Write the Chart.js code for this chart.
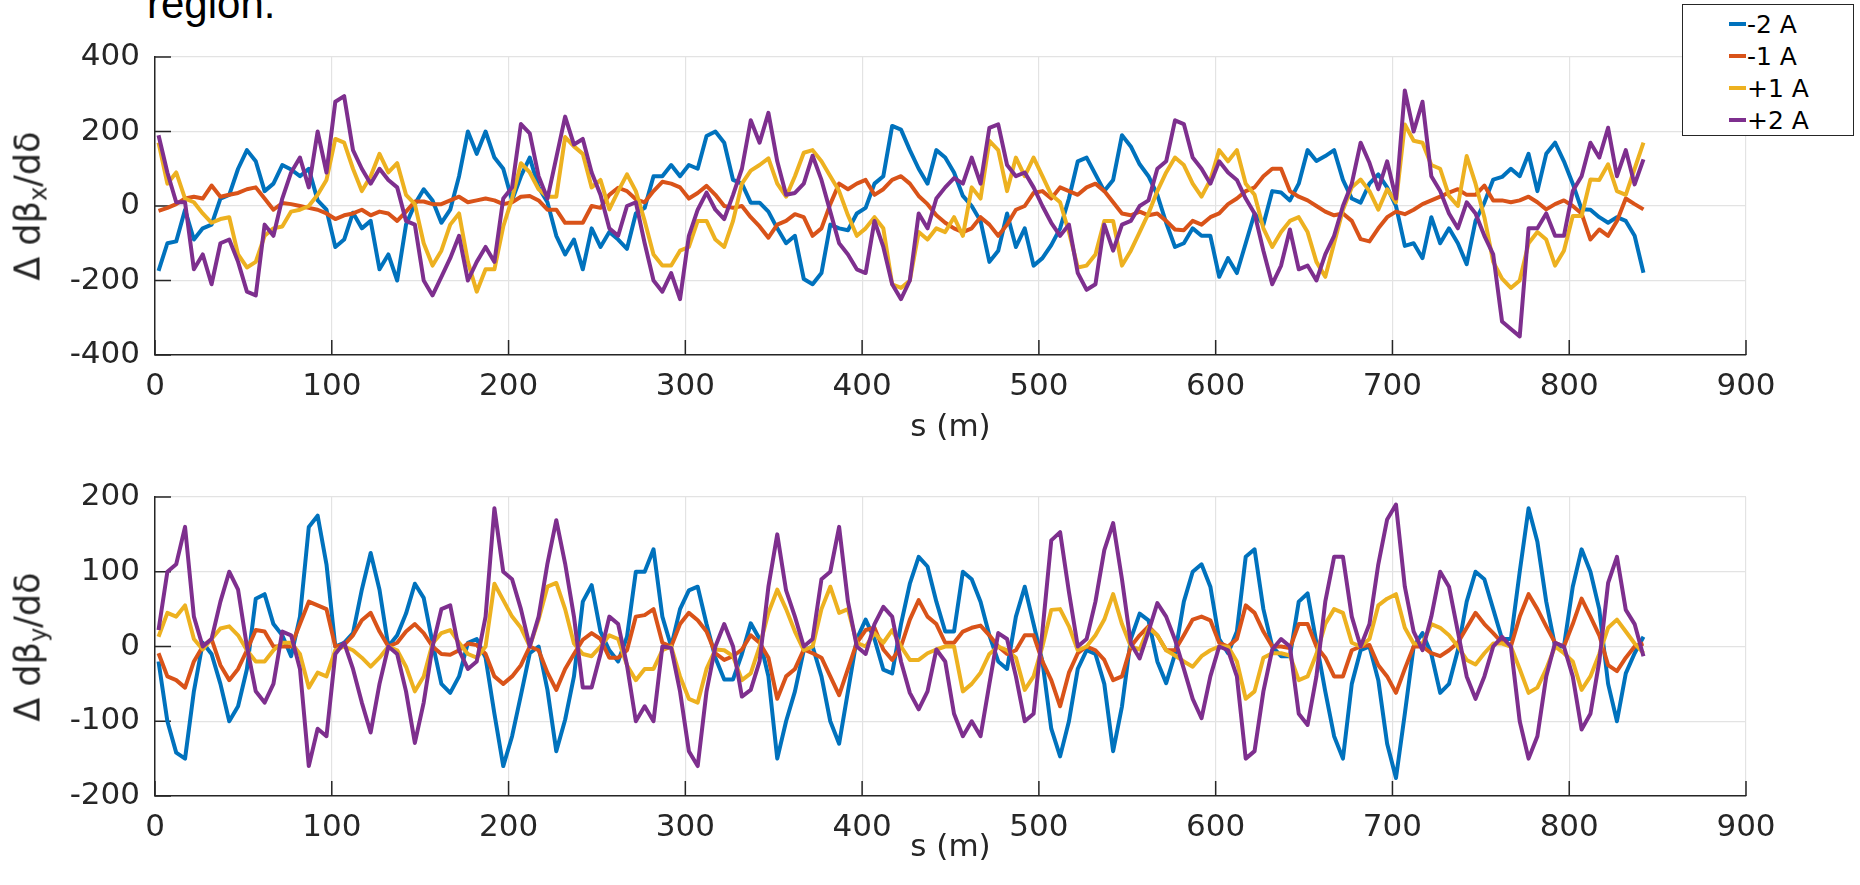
<!DOCTYPE html>
<html>
<head>
<meta charset="utf-8">
<title>Beta-beat chromatic</title>
<script src="https://cdn.jsdelivr.net/npm/chart.js@4.4.1/dist/chart.umd.min.js"></script>
<style>
    html, body { margin: 0; padding: 0; background: #fff; }
    body { width: 1860px; height: 885px; position: relative; overflow: hidden; font-family: 'DejaVu Sans', sans-serif; color: #262626; }
    canvas { position: absolute; left: 0; }
    #chart-topo { top: 0; }
    #chart-baixo { top: 460px; }
    .texto-topo { position: absolute; left: 147px; top: -17px; font-family: 'Liberation Sans', Arial, sans-serif; font-size: 42px; line-height: 42px; color: #000; }
    .rotulo-y { position: absolute; font-size: 35px; white-space: nowrap; transform: translate(-50%, -50%) rotate(-90deg); }
    .rotulo-y sub { font-size: 24px; vertical-align: -7px; }
    #legenda { position: absolute; left: 1682px; top: 4px; width: 172px; height: 132px; border: 1.5px solid #262626; background: #fff; box-sizing: border-box; }
    #legenda .item { position: absolute; left: 46px; height: 30px; line-height: 30px; font-size: 25px; color: #000; white-space: nowrap; }
    #legenda .amostra { display: inline-block; width: 17px; height: 4px; vertical-align: middle; margin-right: 1px; position: relative; top: -2px; }
</style>
</head>
<body>
<div class="texto-topo">region.</div>
<canvas id="chart-topo" width="1860" height="460"></canvas>
<canvas id="chart-baixo" width="1860" height="425"></canvas>
<div class="rotulo-y" style="left: 30px; top: 206px;">&Delta; d&beta;<sub>x</sub>/d&delta;</div>
<div class="rotulo-y" style="left: 30px; top: 647px;">&Delta; d&beta;<sub>y</sub>/d&delta;</div>
<div id="legenda"></div>

<script>
// posicoes s (m) dos pontos
const S_POS = [
    2, 7, 12, 17, 22, 27, 32, 37, 42, 47, 52, 57, 62, 67, 72, 77, 82, 87, 92, 97,
    102, 107, 112, 117, 122, 127, 132, 137, 142, 147, 152, 157, 162, 167, 172, 177, 182, 187, 192, 197,
    202, 207, 212, 217, 222, 227, 232, 237, 242, 247, 252, 257, 262, 267, 272, 277, 282, 287, 292, 297,
    302, 307, 312, 317, 322, 327, 332, 337, 342, 347, 352, 357, 362, 367, 372, 377, 382, 387, 392, 397,
    402, 407, 412, 417, 422, 427, 432, 437, 442, 447, 452, 457, 462, 467, 472, 477, 482, 487, 492, 497,
    502, 507, 512, 517, 522, 527, 532, 537, 542, 547, 552, 557, 562, 567, 572, 577, 582, 587, 592, 597,
    602, 607, 612, 617, 622, 627, 632, 637, 642, 647, 652, 657, 662, 667, 672, 677, 682, 687, 692, 697,
    702, 707, 712, 717, 722, 727, 732, 737, 742, 747, 752, 757, 762, 767, 772, 777, 782, 787, 792, 797,
    802, 807, 812, 817, 822, 827, 832, 837, 842
];

// painel superior: Δ dβx/dδ
const DBX_M2 = [
    -174, -100, -95, -10, -90, -60, -50, 20, 30, 100, 150, 120, 40, 60, 110, 98, 80, 100, 15, -10,
    -110, -90, -18, -60, -40, -170, -130, -200, -50, 5, 45, 15, -45, -10, 80, 200, 140, 200, 130, 100,
    15, 80, 130, 50, 10, -80,
    -130, -90, -170, -60, -110, -70, -90, -115, -20, -5, 80, 80, 110, 80, 110, 100, 188, 200, 170, 70,
    60, 9, 9, -15, -60, -100, -80, -196, -210, -180, -50, -60, -65, -20, -5, 60, 80, 215, 205, 150,
    100, 60, 150, 130, 90,
    27, 0, -40, -150, -120, -20, -110, -60, -160, -140, -105, -60, 20, 120, 130, 85, 40, 70, 190, 160,
    112, 80, 30, -45, -110, -100, -60, -80, -80, -190, -140, -180, -100, -20, -50, 40, 36, 15, 60, 150,
    121, 134, 150, 70, 20,
    9, 60, 85, 50, 0, -107, -100, -140, -30, -100, -60, -100, -156, -40, 9, 71, 78, 100, 80, 140,
    40, 140, 170, 120, 60, -9, -10, -30, -45, -30, -40, -80, -179
];
const DBX_M1 = [
    -13, -5, 5, 20, 25, 20, 55, 25, 30, 35, 45, 50, 20, -10, 8, 5, 0, -5, -10, -20,
    -35, -25, -20, -10, -25, -15, -20, -40, -15, 12, 12, 5, 5, 15, 25, 10, 15, 20, 15, 5,
    10, 25, 27, 15, -10, -10,
    -45, -45, -45, 0, -5, 30, 49, 40, 18, 10, 40, 65, 60, 50, 20, 35, 54, 30, 0, -5,
    0, -30, -55, -85, -50, -40, -22, -30, -80, -60, 5, 60, 45, 60, 70, 30, 45, 70, 80, 60,
    27, 5, -25, -45, -60,
    -70, -60, -30, -50, -80, -50, -10, 0, 35, 40, 20, 50, 40, 30, 50, 60, 40, 10, -20, -25,
    -15, -25, -20, -40, -63, -65, -40, -50, -30, -20, 5, 20, 40, 50, 80, 100, 100, 40, 25, 15,
    0, -15, -25, -20, -40,
    -89, -95, -60, -30, -15, -22, -10, 5, 15, 25, 36, 45, 30, 30, 55, 15, 15, 10, 15, 25,
    10, -9, 5, 15, 0, -20, -90, -63, -80, -40, 20, 5, -9
];
const DBX_P1 = [
    170, 60, 90, 20, 10, -20, -45, -35, -30, -130, -165, -150, -80, -60, -55, -15, -10, 0, 30, 70,
    180, 170, 100, 40, 80, 140, 90, 115, 30, 5, -100, -160, -120, -50, -20, -150, -230, -170, -170, -55,
    20, 115, 90, 45, 25, 25,
    185, 160, 140, 50, 70, -9, 40, 85, 40, -40, -130, -160, -160, -120, -110, -40, -40, -90, -110, -40,
    60, 95, 110, 128, 60, 25, 80, 143, 150, 120, 80, 40, -25, -80, -60, -30, -60, -210, -220, -200,
    -70, -90, -60, -70, -30,
    -80, 50, 20, 175, 150, 40, 130, 80, 130, 80, 30, 10, -70, -165, -160, -130, -40, -40, -160, -120,
    -70, -20, 40, 90, 130, 110, 60, 25, 70, 150, 120, 150, 60, 30, -60, -110, -70, -40, -30, -70,
    -150, -190, -100, -10, 50,
    71, 40, -10, 45, 10, 219, 175, 170, 110, 100, 27, 0, 134, 60, -30, -150, -195, -220, -200, -100,
    -70, -90, -160, -120, -27, -27, 71, 70, 112, 40, 30, 100, 170
];
const DBX_P2 = [
    190, 90, 10, 10, -170, -130, -210, -100, -90, -150, -230, -240, -50, -80, 20, 90, 130, 50, 200, 90,
    280, 295, 150, 100, 60, 100, 70, 50, -40, -50, -200, -240, -190, -140, -80, -200, -150, -110, -150, 20,
    50, 220, 195, 80, 20, 130,
    240, 165, 180, 90, 30, -60, -80, 0, 10, -100, -200, -230, -180, -250, -80, -10, 36, -10, -35, 30,
    100, 230, 170, 250, 120, 30, 35, 60, 135, 70, -15, -100, -130, -170, -180, -40, -110, -210, -250, -200,
    -20, -60, 20, 50, 75,
    60, 130, 60, 210, 219, 110, 80, 90, 50, 0, -45, -80, -50, -180, -225, -210, -50, -120, -50, -40,
    0, 15, 100, 120, 230, 220, 130, 100, 60, 120, 90, 70, 20, -20, -120, -210, -160, -63, -170, -160,
    -200, -130, -80, 0, 60,
    170, 116, 45, 120, 20, 310, 200, 280, 80, 40, -20, -60, 10, -20, -80, -130, -310, -330, -350, -60,
    -60, -20, -80, -80, 40, 80, 170, 130, 210, 80, 150, 58, 125
];

// painel inferior: Δ dβy/dδ
const DBY_M2 = [
    -20, -100, -142, -150, -60, 5, -10, -50, -100, -80, -30, 64, 70, 30, 15, -13, 40, 160, 175, 110,
    0, 5, 18, 76, 125, 76, 0, 15, 44, 84, 65, 5, -50, -62, -40, 5, 10, -15, -90, -160,
    -120, -65, -9, 0, -58, -140,
    -98, -40, 60, 82, 20, -5, -20, 13, 100, 100, 130, 40, 0, 50, 75, 80, 30, -15, -44, -44,
    -10, 31, 10, -40, -150, -100, -60, -5, 0, -40, -100, -130, -60, 10, 36, 10, -31, -36, 30, 84,
    120, 107, 60, 20, 20,
    100, 90, 60, 15, -20, -30, 40, 80, 30, -20, -110, -147, -100, -30, -5, -10, -50, -140, -80, 10,
    44, 35, -20, -49, -10, 60, 100, 110, 80, 10, -9, 20, 120, 130, 50, 0, -13, -13, 60, 71,
    5, -60, -120, -150, -50,
    -5, 0, -45, -130, -176, -90, 0, 18, -10, -62, -50, -5, 60, 100, 90, 50, 10, 10, 100, 185,
    140, 60, 0, 0, 80, 130, 100, 50, -50, -100, -36, -9, 13
];
const DBY_M1 = [
    -9, -40, -45, -55, -20, 0, 10, -25, -45, -30, -5, 22, 20, 0, 0, 0, 30, 60, 55, 50,
    0, 2, 15, 35, 45, 20, 0, 5, 20, 30, 18, 0, -10, -11, -5, 4, 2, -10, -40, -50,
    -40, -25, 0, -5, -35, -58,
    -30, -10, 9, 18, 10, -15, -15, -5, 40, 42, 50, 5, 0, 30, 45, 35, 20, -9, -18, -13,
    -4, 15, 5, -15, -70, -40, -30, -4, -9, -15, -40, -65, -30, 5, 22, 25, -4, -18, 0, 36,
    62, 40, 30, 5, 5,
    20, 25, 28, 15, 0, -10, -5, 15, 15, -20, -45, -80, -35, -9, 0, -5, -18, -45, -40, 0,
    15, 27, 15, -5, -5, 15, 36, 40, 35, 5, 0, 10, 55, 45, 20, 0, 0, -2, 30, 30,
    0, -15, -40, -40, -5,
    0, 2, -25, -40, -62, -30, 0, 0, -9, -13, -5, 5, 25, 45, 30, 18, 5, 0, 40, 70,
    50, 27, 5, 0, 30, 64, 40, 15, -25, -33, -15, 0, 4
];
const DBY_P1 = [
    13, 45, 40, 55, 10, -4, 10, 24, 27, 15, -5, -20, -20, -5, 5, 5, -10, -55, -35, -40,
    -5, 0, -5, -15, -27, -15, 0, -5, -27, -60, -40, 4, 18, 22, 5, -10, -15, 0, 84, 62,
    40, 25, 0, 36, 80, 85,
    50, 4, -10, -13, 0, 15, 10, -25, -45, -30, -30, -5, 0, -40, -70, -75, -30, -4, -5, -13,
    -45, -36, 0, 45, 76, 50, 20, -5, 0, 50, 80, 45, 50, 5, 0, 18, 5, 22, 0, -18,
    -18, -9, -4, 0, 0,
    -60, -50, -35, -10, 0, -5, -15, -58, -40, 0, 49, 50, 27, -5, 0, 15, 36, 70, 30, 0,
    -4, 25, 15, -5, -12, -20, -27, -13, -5, 0, 0, -20, -70, -60, -15, -9, -9, -12, -45, -40,
    -10, 30, 50, 45, 5,
    0, 10, 55, 64, 70, 25, 4, 4, 30, 25, 15, 0, -18, -24, -9, 4, 4, 0, -30, -62,
    -55, -30, 0, -9, -20, -58, -40, -10, 25, 36, 20, 4, -9
];
const DBY_P2 = [
    22, 100, 110, 160, 40, 0, 10, 60, 100, 76, 0, -60, -75, -50, 20, 15, -30, -160, -110, -120,
    -10, 5, -30, -75, -115, -50, 0, -10, -60, -129, -75, 0, 50, 55, -5, -30, -20, 40, 185, 100,
    90, 50, 0, 40, 111, 169,
    111, 40, -55, -55, -10, 40, 30, -25, -100, -80, -100, 0, -2, -60, -140, -160, -60, 0, 30, 0,
    -67, -58, -20, 80, 150, 75, 40, 0, 10, 90, 100, 160, 60, 0, -10, 30, 53, 40, -20, -62,
    -84, -60, -4, -20, -90,
    -120, -100, -120, -50, 18, 10, -40, -100, -90, 20, 142, 153, 73, 0, 10, 60, 129, 165, 90, 4,
    -16, 20, 58, 40, 9, -30, -70, -96, -40, 0, -5, -40, -150, -140, -60, -4, 10, 0, -90, -105,
    -40, 60, 120, 120, 40,
    0, 30, 110, 170, 190, 80, 20, -5, 40, 100, 80, 20, -40, -70, -40, 0, 13, 0, -100, -150,
    -120, -40, 5, 0, -40, -111, -90, -20, 85, 120, 49, 30, -13
];

const X_TICKS = [0, 100, 200, 300, 400, 500, 600, 700, 800, 900];
const YX_TICKS = [-400, -200, 0, 200, 400];
const YY_TICKS = [-200, -100, 0, 100, 200];
const LEGEND_LABELS = ['-2 A', '-1 A', '+1 A', '+2 A'];
const CORES = ['#0072BD', '#D95319', '#EDB120', '#7E2F8E'];

const AXIS_COLOR = '#262626';
const GRID_COLOR = '#e3e3e3';
const FONTE = "'DejaVu Sans', sans-serif";

// ticks para dentro, estilo matlab
const tickInterno = {
    id: 'tickInterno',
    beforeDatasetsDraw(chart) {
        const { ctx, chartArea, scales } = chart;
        ctx.save();
        ctx.strokeStyle = AXIS_COLOR;
        ctx.lineWidth = 1.5;
        ctx.beginPath();
        scales.x.ticks.forEach(t => {
            const px = scales.x.getPixelForValue(t.value);
            ctx.moveTo(px, chartArea.bottom);
            ctx.lineTo(px, chartArea.bottom - 15);
        });
        scales.y.ticks.forEach(t => {
            const py = scales.y.getPixelForValue(t.value);
            ctx.moveTo(chartArea.left, py);
            ctx.lineTo(chartArea.left + 16, py);
        });
        ctx.stroke();
        ctx.restore();
    }
};

function desenharPainel(canvasId, series, yTicks, padTopo, alturaX, padTitulo) {
    const ctx = document.getElementById(canvasId);
    if (!ctx) return null;

    return new Chart(ctx, {
        type: 'line',
        data: {
            datasets: series.map((valores, i) => ({
                label: LEGEND_LABELS[i],
                data: S_POS.map((s, k) => ({ x: s, y: valores[k] })),
                borderColor: CORES[i],
                backgroundColor: CORES[i],
                borderWidth: 4,
                borderJoinStyle: 'round',
                pointRadius: 0,
                tension: 0,
                fill: false,
                order: series.length - i
            }))
        },
        options: {
            responsive: false,
            animation: false,
            events: [],
            layout: { padding: { left: 0, right: 114, top: padTopo, bottom: 0 } },
            plugins: {
                legend: { display: false },
                tooltip: { enabled: false }
            },
            scales: {
                x: {
                    type: 'linear',
                    min: X_TICKS[0],
                    max: X_TICKS[X_TICKS.length - 1],
                    afterBuildTicks: axis => { axis.ticks = X_TICKS.map(v => ({ value: v })); },
                    afterFit: axis => { axis.height = alturaX; },
                    grid: { color: GRID_COLOR, lineWidth: 1.2, drawTicks: false },
                    border: { color: AXIS_COLOR, width: 1.5 },
                    ticks: {
                        color: AXIS_COLOR,
                        font: { family: FONTE, size: 31 },
                        padding: 13,
                        maxRotation: 0,
                        callback: v => String(v)
                    },
                    title: {
                        display: true,
                        text: 's (m)',
                        color: AXIS_COLOR,
                        font: { family: FONTE, size: 31 },
                        padding: { top: 0, bottom: padTitulo }
                    }
                },
                y: {
                    min: yTicks[0],
                    max: yTicks[yTicks.length - 1],
                    afterBuildTicks: axis => { axis.ticks = yTicks.map(v => ({ value: v })); },
                    afterFit: axis => { axis.width = 155; },
                    grid: { color: GRID_COLOR, lineWidth: 1.2, drawTicks: false },
                    border: { color: AXIS_COLOR, width: 1.5 },
                    ticks: {
                        color: AXIS_COLOR,
                        font: { family: FONTE, size: 31 },
                        padding: 15,
                        callback: v => String(v)
                    }
                }
            }
        },
        plugins: [tickInterno]
    });
}

function montarLegenda() {
    const box = document.getElementById('legenda');
    if (!box) return;
    box.innerHTML = LEGEND_LABELS.map((txt, i) => `
        <div class="item" style="top: ${5 + i * 32}px;">
            <span class="amostra" style="background: ${CORES[i]};"></span>${txt}
        </div>
    `).join('');
}

desenharPainel('chart-topo', [DBX_M2, DBX_M1, DBX_P1, DBX_P2], YX_TICKS, 57, 105, 13);
desenharPainel('chart-baixo', [DBY_M2, DBY_M1, DBY_P1, DBY_P2], YY_TICKS, 37, 89, 18);
montarLegenda();
</script>
</body>
</html>
